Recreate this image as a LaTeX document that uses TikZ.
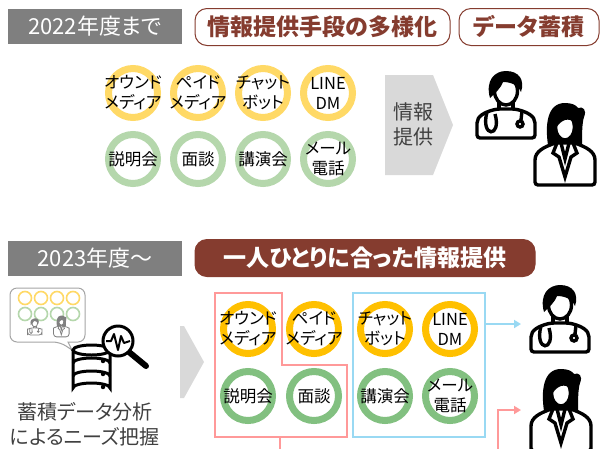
\documentclass[tikz,border=0pt]{standalone}
\usepackage{fontspec}
\setmainfont{Noto Sans CJK JP}[RawFeature=+palt]
\usepackage{tikz}
\usetikzlibrary{arrows.meta}

\definecolor{boxgray}{RGB}{127,127,127}
\definecolor{rust}{RGB}{133,60,47}
\definecolor{ylwpale}{RGB}{255,217,102}
\definecolor{grnpale}{RGB}{181,215,172}
\definecolor{ylw}{RGB}{255,192,0}
\definecolor{grn}{RGB}{130,192,128}
\definecolor{chevgray}{RGB}{217,217,217}
\definecolor{darktext}{RGB}{64,64,64}
\definecolor{pinkred}{RGB}{255,153,153}
\definecolor{skyblue}{RGB}{153,217,243}

% doctor icons, drawn from the top left corner, y pointing down
\tikzset{
  pics/maledoc/.style={code={
    \draw[fill=white, rounded corners=3pt] (2,68) -- (2,56) .. controls (2,46) and (10,42) .. (22,39) -- (40,39) .. controls (52,42) and (60,46) .. (60,56) -- (60,68) -- cycle;
    \draw (24,31) -- (24,40) (38,31) -- (38,40);
    % stethoscope
    \draw (12,42) .. controls (5,68) and (27,68) .. (20,44);
    \draw (47,41) -- (46,50);
    \draw (45,54) circle (3);
    \draw[fill=white] (31,21) ellipse [x radius=11.5, y radius=14];
    \fill (15,28) .. controls (10,10) and (20,1) .. (31,1) .. controls (44,1) and (50,10) .. (46,22) .. controls (44,16) and (37,12) .. (28,12) .. controls (26,18) and (21,22) .. (15,28) -- cycle;
  }},
  pics/femaledoc/.style={code={
    \fill (15,44) .. controls (12,24) and (14,2) .. (32,2) .. controls (39,2) and (43,4) .. (45,7) .. controls (50,5) and (54,9) .. (51,16) .. controls (49,22) and (49,34) .. (49,44) -- cycle;
    \draw[fill=white, rounded corners=3pt] (2,84) -- (2,62) .. controls (2,50) and (12,46) .. (22,42) -- (42,42) .. controls (52,46) and (62,50) .. (62,62) -- (62,84) -- cycle;
    \draw (24,42) -- (20,52) -- (26,56) -- (32,76) -- (38,56) -- (44,52) -- (40,42);
    \draw (27,38) -- (32,58) -- (37,38);
    \draw[fill=white] (32,26) ellipse [x radius=9.5, y radius=13];
    \fill (22.5,28) .. controls (22,12) and (36,10) .. (42,22) .. controls (36,16) and (28,18) .. (22.5,28) -- cycle;
  }},
}

\begin{document}
\begin{tikzpicture}[x=1pt, y=-1pt,
  yearbox/.style={fill=boxgray, text=white, minimum width=174pt, minimum height=35pt,
                  inner sep=0pt, font=\fontsize{22}{26}\selectfont},
  titlebox/.style={draw=rust, line width=1pt, rounded corners=12pt, fill=white, text=rust,
                   minimum height=37pt, inner sep=0pt, font=\bfseries\fontsize{23}{27}\selectfont},
  ring/.style={circle, draw=#1, line width=7pt, fill=white, minimum size=49pt, inner sep=0pt},
  dot/.style={circle, draw=#1, line width=1.6pt, minimum size=13pt, inner sep=0pt},
  ringtext/.style={align=center, inner sep=0pt, font=\fontsize{16.5}{20}\selectfont},
  tag/.style={align=center, inner sep=0pt, text=darktext, font=\fontsize{20}{25}\selectfont},
  redline/.style={draw=pinkred, line width=2pt},
  blueline/.style={draw=skyblue, line width=2pt},
  tip/.style={-{Triangle[length=7pt, width=8pt]}}
]
\useasboundingbox (0,0) rectangle (601,448);

% ---- up to 2022
\node[yearbox] (y22) at (95,26.5) {2022年度まで};
\node[titlebox, minimum width=255pt] (goal1) at (322.5,27) {情報提供手段の多様化};
\node[titlebox, minimum width=140pt] (goal2) at (529,27) {データ蓄積};

\node[ring=ylwpale, label={[ringtext]center:オウンド\\メディア}] (a1) at (133,93) {};
\node[ring=ylwpale, label={[ringtext]center:ペイド\\メディア}]   (a2) at (198,93) {};
\node[ring=ylwpale, label={[ringtext]center:チャット\\ボット}]   (a3) at (263,93) {};
\node[ring=ylwpale, label={[ringtext]center:LINE\\DM}]          (a4) at (328,93) {};
\node[ring=grnpale, label={[ringtext]center:説明会}]            (a5) at (133,159) {};
\node[ring=grnpale, label={[ringtext]center:面談}]              (a6) at (198,159) {};
\node[ring=grnpale, label={[ringtext]center:講演会}]            (a7) at (263,159) {};
\node[ring=grnpale, label={[ringtext]center:メール\\電話}]      (a8) at (328,159) {};

\fill[chevgray] (385,75) -- (433,75) -- (453,125) -- (433,175) -- (385,175) -- cycle;
\node[tag] (info) at (413,124) {情報\\提供};

\pic[line width=3.4pt] at (475,70) {maledoc};
\pic[line width=3.4pt] at (533,101) {femaledoc};

% ---- from 2023
\node[yearbox] (y23) at (95,258) {2023年度～};
\node[titlebox, fill=rust, text=white, minimum width=340pt] (goal3) at (365,258) {一人ひとりに合った情報提供};

% speech bubble with the stored data
\draw[boxgray!70, fill=white, line width=1pt, rounded corners=7pt]
  (68,342) -- (85,342) -- (85,288) -- (10,288) -- (10,342) -- (60,342) [sharp corners] -- (72,350) -- cycle;
\foreach \x [count=\i] in {25,41,57,73} {
  \node[dot=ylwpale] (dy\i) at (\x,298) {};
  \node[dot=grnpale] (dg\i) at (\x,314) {};
}
\pic[gray, line width=0.8pt, scale=0.25] at (27,318) {maledoc};
\pic[gray, line width=0.8pt, scale=0.26] at (53,315) {femaledoc};

% database
\begin{scope}[line width=3pt]
  \draw[fill=white] (73,350) -- (73,388) arc[start angle=180, end angle=360, x radius=18.5, y radius=5]
    -- (110,350);
  \draw[fill=white] (91.5,350) ellipse [x radius=18.5, y radius=5];
  \draw (73,363) arc[start angle=180, end angle=360, x radius=18.5, y radius=5];
  \draw (73,376) arc[start angle=180, end angle=360, x radius=18.5, y radius=5];
  \fill (103,361) circle (2.2) (103,374) circle (2.2) (103,387) circle (2.2);
\end{scope}
% magnifier
\draw[line width=6pt, line cap=round] (129,352) -- (146,366);
\draw[line width=3pt, fill=white] (118,341) circle (15);
\draw[line width=2pt, line join=round] (106,341) -- (111,341) -- (114,334) -- (118,350) -- (121,336) -- (124,343) -- (130,341);

\node[tag] (needs) at (85,424) {蓄積データ分析\\によるニーズ把握};

\fill[chevgray] (180,326) -- (184,326) -- (204,362) -- (184,398) -- (180,398) -- cycle;

% channel groups
\draw[redline] (215,293) -- (282,293) -- (282,365) -- (347,365) -- (347,437) -- (215,437) -- cycle;
\draw[blueline] (353,293) rectangle (485,437);

\node[ring=ylw, label={[ringtext]center:オウンド\\メディア}] (b1) at (248,329) {};
\node[ring=ylw, label={[ringtext]center:ペイド\\メディア}]   (b2) at (314,329) {};
\node[ring=ylw, label={[ringtext]center:チャット\\ボット}]   (b3) at (385,329) {};
\node[ring=ylw, label={[ringtext]center:LINE\\DM}]          (b4) at (450,329) {};
\node[ring=grn, label={[ringtext]center:説明会}]            (b5) at (248,396) {};
\node[ring=grn, label={[ringtext]center:面談}]              (b6) at (314,396) {};
\node[ring=grn, label={[ringtext]center:講演会}]            (b7) at (385,396) {};
\node[ring=grn, label={[ringtext]center:メール\\電話}]      (b8) at (450,396) {};

\pic[line width=3.4pt] at (529,284) {maledoc};
\pic[line width=3.4pt] at (529,367) {femaledoc};

\coordinate (redout) at (280,437);
\coordinate (redend) at (280,449);
\coordinate (blueout) at (485,324);
\coordinate (docm) at (521,324);
\coordinate (redin) at (498,449);
\coordinate (docf) at (521,410);

\draw[redline] (redout) -- (redend);
\draw[blueline, tip] (blueout) -- (docm);
\draw[redline, tip] (redin) |- (docf);
\end{tikzpicture}
\end{document}
